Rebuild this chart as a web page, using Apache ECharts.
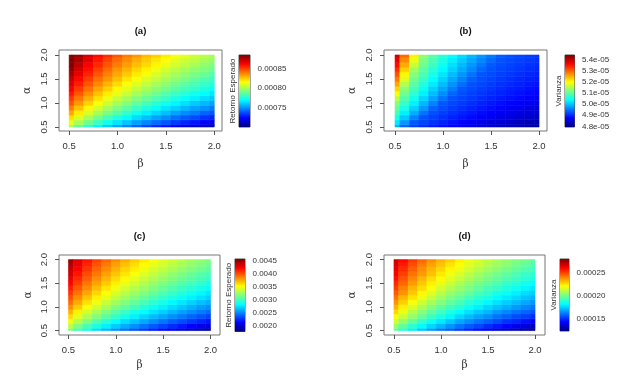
<!DOCTYPE html>
<html>
<head>
<meta charset="utf-8">
<title>Retorno esperado y varianza</title>
<script src="https://cdn.jsdelivr.net/npm/echarts@6/dist/echarts.min.js"></script>
<style>
    html, body { margin: 0; padding: 0; background: #fff; }
    #main { width: 624px; height: 386px; }
</style>
</head>
<body>
<div id="main"></div>
<script>
    var myChart = echarts.init(document.getElementById('main'));

    // malla: beta en el eje x, alfa en el eje y
    var betas  = [0.5, 0.6, 0.7, 0.8, 0.9, 1.0, 1.1, 1.2, 1.3, 1.4, 1.5, 1.6, 1.7, 1.8, 1.9, 2.0];
    var alphas = [0.5, 0.6, 0.7, 0.8, 0.9, 1.0, 1.1, 1.2, 1.3, 1.4, 1.5, 1.6, 1.7, 1.8, 1.9, 2.0];
    var axisTicks = [0.5, 1.0, 1.5, 2.0];

    // filas: alfa 0.5 -> 2.0 ; columnas: beta 0.5 -> 2.0
    // (a) Retorno Esperado, en 1e-5
    var retornoA = [
        [80.0,78.8,77.8,76.9,76.1,75.4,74.8,74.2,73.7,73.2,72.8,72.3,71.9,71.6,71.2,70.9],
        [81.2,80.0,79.0,78.1,77.3,76.6,76.0,75.4,74.9,74.4,74.0,73.5,73.1,72.8,72.4,72.1],
        [82.2,81.0,80.0,79.1,78.3,77.6,77.0,76.4,75.9,75.4,75.0,74.5,74.1,73.8,73.4,73.1],
        [83.1,81.9,80.9,80.0,79.2,78.5,77.9,77.3,76.8,76.3,75.9,75.4,75.0,74.7,74.3,74.0],
        [83.9,82.7,81.7,80.8,80.0,79.3,78.7,78.1,77.6,77.1,76.6,76.2,75.8,75.4,75.1,74.7],
        [84.6,83.4,82.4,81.5,80.7,80.0,79.4,78.8,78.3,77.8,77.3,76.9,76.5,76.1,75.8,75.4],
        [85.2,84.0,83.0,82.1,81.3,80.6,80.0,79.4,78.9,78.4,78.0,77.5,77.1,76.8,76.4,76.1],
        [85.8,84.6,83.6,82.7,81.9,81.2,80.6,80.0,79.5,79.0,78.5,78.1,77.7,77.3,77.0,76.6],
        [86.3,85.1,84.1,83.2,82.4,81.7,81.1,80.5,80.0,79.5,79.1,78.6,78.2,77.9,77.5,77.2],
        [86.8,85.6,84.6,83.7,82.9,82.2,81.6,81.0,80.5,80.0,79.6,79.1,78.7,78.3,78.0,77.7],
        [87.2,86.0,85.0,84.1,83.4,82.7,82.0,81.5,80.9,80.5,80.0,79.6,79.2,78.8,78.4,78.1],
        [87.7,86.5,85.5,84.6,83.8,83.1,82.5,81.9,81.4,80.9,80.4,80.0,79.6,79.2,78.9,78.5],
        [88.1,86.9,85.9,85.0,84.2,83.5,82.9,82.3,81.8,81.3,80.8,80.4,80.0,79.6,79.3,78.9],
        [88.4,87.3,86.2,85.4,84.6,83.9,83.3,82.7,82.2,81.7,81.2,80.8,80.4,80.0,79.6,79.3],
        [88.4,87.6,86.6,85.7,84.9,84.2,83.6,83.0,82.5,82.0,81.6,81.1,80.7,80.4,80.0,79.7],
        [88.4,87.9,86.9,86.0,85.3,84.6,83.9,83.4,82.8,82.4,81.9,81.5,81.1,80.7,80.3,80.0]
    ];

    // (b) Varianza, en 1e-5
    var varianzaB = [
        [4.989,4.938,4.918,4.905,4.893,4.882,4.873,4.864,4.856,4.849,4.842,4.835,4.829,4.824,4.818,4.813],
        [5.025,4.974,4.931,4.918,4.906,4.895,4.886,4.877,4.869,4.862,4.855,4.848,4.842,4.836,4.831,4.826],
        [5.055,5.004,4.961,4.928,4.917,4.906,4.896,4.888,4.880,4.872,4.865,4.859,4.853,4.847,4.842,4.837],
        [5.081,5.030,4.987,4.950,4.926,4.915,4.906,4.897,4.889,4.882,4.875,4.868,4.862,4.857,4.851,4.846],
        [5.104,5.053,5.010,4.973,4.940,4.924,4.914,4.905,4.897,4.890,4.883,4.877,4.871,4.865,4.859,4.854],
        [5.124,5.074,5.031,4.993,4.960,4.931,4.921,4.913,4.905,4.897,4.890,4.884,4.878,4.872,4.867,4.862],
        [5.160,5.092,5.049,5.012,4.979,4.950,4.928,4.919,4.911,4.904,4.897,4.891,4.885,4.879,4.873,4.868],
        [5.195,5.109,5.066,5.029,4.996,4.966,4.940,4.926,4.917,4.910,4.903,4.897,4.891,4.885,4.879,4.874],
        [5.227,5.125,5.082,5.044,5.011,4.982,4.956,4.931,4.923,4.916,4.909,4.902,4.896,4.890,4.885,4.880],
        [5.257,5.153,5.096,5.059,5.026,4.997,4.970,4.946,4.928,4.921,4.914,4.907,4.901,4.896,4.890,4.885],
        [5.284,5.180,5.110,5.072,5.039,5.010,4.983,4.959,4.937,4.926,4.919,4.912,4.906,4.900,4.895,4.890],
        [5.310,5.206,5.122,5.085,5.052,5.023,4.996,4.972,4.950,4.930,4.923,4.917,4.911,4.905,4.900,4.895],
        [5.335,5.231,5.143,5.097,5.064,5.035,5.008,4.984,4.961,4.941,4.928,4.921,4.915,4.909,4.904,4.899],
        [5.358,5.254,5.166,5.108,5.075,5.046,5.019,4.995,4.973,4.952,4.933,4.925,4.919,4.913,4.908,4.903],
        [5.379,5.275,5.187,5.118,5.085,5.056,5.030,5.005,4.983,4.963,4.943,4.929,4.923,4.917,4.912,4.907],
        [5.400,5.296,5.208,5.131,5.095,5.066,5.040,5.015,4.993,4.973,4.953,4.935,4.926,4.921,4.915,4.910]
    ];

    // (c) Retorno Esperado, en 1e-4
    var retornoC = [
        [31.7,30.0,28.5,27.3,26.2,25.2,24.3,23.5,22.7,22.0,21.4,20.7,20.2,19.6,19.1,18.7],
        [33.4,31.7,30.2,29.0,27.9,26.9,26.0,25.2,24.4,23.7,23.1,22.5,21.9,21.3,20.8,20.4],
        [34.8,33.1,31.7,30.4,29.3,28.3,27.4,26.6,25.9,25.2,24.5,23.9,23.3,22.8,22.3,21.8],
        [36.1,34.4,32.9,31.7,30.6,29.6,28.7,27.9,27.1,26.4,25.8,25.2,24.6,24.0,23.5,23.1],
        [37.2,35.5,34.0,32.8,31.7,30.7,29.8,29.0,28.2,27.5,26.9,26.3,25.7,25.2,24.7,24.2],
        [38.2,36.5,35.0,33.8,32.7,31.7,30.8,30.0,29.2,28.5,27.9,27.3,26.7,26.1,25.6,25.2],
        [39.1,37.4,35.9,34.7,33.6,32.6,31.7,30.9,30.1,29.4,28.8,28.1,27.6,27.0,26.5,26.1],
        [39.9,38.2,36.7,35.5,34.4,33.4,32.5,31.7,30.9,30.2,29.6,29.0,28.4,27.9,27.4,26.9],
        [40.6,38.9,37.5,36.2,35.1,34.1,33.2,32.4,31.7,31.0,30.3,29.7,29.1,28.6,28.1,27.6],
        [41.3,39.6,38.2,36.9,35.8,34.8,33.9,33.1,32.4,31.7,31.0,30.4,29.8,29.3,28.8,28.3],
        [42.0,40.3,38.8,37.6,36.5,35.5,34.6,33.8,33.0,32.3,31.7,31.1,30.5,30.0,29.5,29.0],
        [42.6,40.9,39.5,38.2,37.1,36.1,35.2,34.4,33.6,32.9,32.3,31.7,31.1,30.6,30.1,29.6],
        [43.2,41.5,40.0,38.8,37.7,36.7,35.8,35.0,34.2,33.5,32.9,32.2,31.7,31.1,30.6,30.2],
        [43.7,42.0,40.6,39.3,38.2,37.2,36.3,35.5,34.7,34.0,33.4,32.8,32.2,31.7,31.2,30.7],
        [44.2,42.5,41.1,39.8,38.7,37.7,36.8,36.0,35.2,34.5,33.9,33.3,32.7,32.2,31.7,31.2],
        [44.7,43.0,41.5,40.3,39.2,38.2,37.3,36.5,35.7,35.0,34.4,33.8,33.2,32.7,32.2,31.7]
    ];

    // (d) Varianza, en 1e-5
    var varianzaD = [
        [19.7,18.8,18.0,17.3,16.7,16.1,15.7,15.2,14.8,14.4,14.1,13.7,13.4,13.1,12.9,12.6],
        [20.6,19.7,18.9,18.2,17.6,17.1,16.6,16.1,15.7,15.4,15.0,14.7,14.4,14.1,13.8,13.5],
        [21.4,20.5,19.7,19.0,18.4,17.9,17.4,16.9,16.5,16.1,15.8,15.5,15.1,14.9,14.6,14.3],
        [22.1,21.2,20.4,19.7,19.1,18.6,18.1,17.6,17.2,16.8,16.5,16.1,15.8,15.5,15.3,15.0],
        [22.7,21.8,21.0,20.3,19.7,19.2,18.7,18.2,17.8,17.4,17.1,16.7,16.4,16.1,15.9,15.6],
        [23.2,22.3,21.5,20.8,20.2,19.7,19.2,18.8,18.4,18.0,17.6,17.3,17.0,16.7,16.4,16.1],
        [23.7,22.8,22.0,21.3,20.7,20.2,19.7,19.3,18.8,18.5,18.1,17.8,17.5,17.2,16.9,16.6],
        [24.2,23.2,22.5,21.8,21.2,20.6,20.1,19.7,19.3,18.9,18.6,18.2,17.9,17.6,17.3,17.1],
        [24.6,23.7,22.9,22.2,21.6,21.0,20.5,20.1,19.7,19.3,19.0,18.6,18.3,18.0,17.7,17.5],
        [25.0,24.0,23.2,22.6,22.0,21.4,20.9,20.5,20.1,19.7,19.3,19.0,18.7,18.4,18.1,17.9],
        [25.3,24.4,23.6,22.9,22.3,21.8,21.3,20.8,20.4,20.0,19.7,19.4,19.0,18.8,18.5,18.2],
        [25.7,24.7,23.9,23.2,22.6,22.1,21.6,21.2,20.8,20.4,20.0,19.7,19.4,19.1,18.8,18.6],
        [26.0,25.0,24.2,23.6,23.0,22.4,21.9,21.5,21.1,20.7,20.3,20.0,19.7,19.4,19.1,18.9],
        [26.3,25.3,24.5,23.8,23.2,22.7,22.2,21.8,21.4,21.0,20.6,20.3,20.0,19.7,19.4,19.2],
        [26.5,25.6,24.8,24.1,23.5,23.0,22.5,22.1,21.6,21.3,20.9,20.6,20.3,20.0,19.7,19.4],
        [26.8,25.9,25.1,24.4,23.8,23.2,22.8,22.3,21.9,21.5,21.2,20.8,20.5,20.2,20.0,19.7]
    ];

    var matrices = [retornoA, varianzaB, retornoC, varianzaD];
    var units = [1e-5, 1e-5, 1e-4, 1e-5];

    // escala de color (extremos de cada barra)
    var rangeA = [0.000702, 0.000884];
    var rangeB = [4.794e-5, 5.445e-5];
    var rangeC = [0.001784, 0.00455];
    var rangeD = [0.000124, 0.000279];
    var ranges = [rangeA, rangeB, rangeC, rangeD];

    var ticksA = [0.00075, 0.00080, 0.00085];
    var ticksB = [4.8e-5, 4.9e-5, 5.0e-5, 5.1e-5, 5.2e-5, 5.3e-5, 5.4e-5];
    var ticksC = [0.0020, 0.0025, 0.0030, 0.0035, 0.0040, 0.0045];
    var ticksD = [0.00015, 0.00020, 0.00025];
    var barTicks = [ticksA, ticksB, ticksC, ticksD];

    var titles = ['(a)', '(b)', '(c)', '(d)'];
    var barNames = ['Retorno Esperado', 'Varianza', 'Retorno Esperado', 'Varianza'];

    var fmts = [
        function (v) { return v.toFixed(5); },
        function (v) { return v.toExponential(1).replace(/e([+-])(\d)$/, 'e$10$2'); },
        function (v) { return v.toFixed(4); },
        function (v) { return v.toFixed(5); }
    ];

    // posiciones (px) de cada panel
    var layout = [
        { grid: {left: 59, top: 50, width: 163, height: 81}, x: [0.395, 2.08], y: [0.417, 2.104],
          bar: {left: 239, top: 55, width: 11, height: 72}, titleTop: 26.5, xGap: 28, yGap: 26 },
        { grid: {left: 384, top: 50, width: 163, height: 81}, x: [0.385, 2.083], y: [0.417, 2.104],
          bar: {left: 565, top: 55, width: 9.5, height: 72}, titleTop: 26.5, xGap: 28, yGap: 26.5 },
        { grid: {left: 59, top: 255, width: 161, height: 80}, x: [0.40, 2.10], y: [0.407, 2.097],
          bar: {left: 235, top: 259, width: 10, height: 72.5}, titleTop: 231, xGap: 24.5, yGap: 25.5 },
        { grid: {left: 384, top: 255, width: 161, height: 80}, x: [0.394, 2.106], y: [0.407, 2.097],
          bar: {left: 560, top: 259, width: 9, height: 72}, titleTop: 231, xGap: 24.5, yGap: 26.5 }
    ];

    var jet = ['#00007F', '#0000FF', '#007FFF', '#00FFFF', '#7FFF7F', '#FFFF00', '#FF7F00', '#FF0000', '#7F0000'];
    var barStops = jet.slice().reverse().map(function (c, i) {
        return {offset: i / (jet.length - 1), color: c};
    });

    var half = (betas[1] - betas[0]) / 2;
    var bMin = betas[0], bMax = betas[betas.length - 1];
    var aMin = alphas[0], aMax = alphas[alphas.length - 1];

    var cells = function (mat, unit) {
        var res = [];
        for (var i = 0; i < alphas.length; i++) {
            for (var j = 0; j < betas.length; j++) {
                res.push([betas[j], alphas[i], mat[i][j] * unit]);
            }
        }
        return res;
    };

    var renderCell = function (params, api) {
        var b = api.value(0), a = api.value(1);
        var p0 = api.coord([Math.max(b - half, bMin), Math.min(a + half, aMax)]);
        var p1 = api.coord([Math.min(b + half, bMax), Math.max(a - half, aMin)]);
        var color = api.visual('color');
        return {
            type: 'rect',
            shape: {x: p0[0], y: p0[1], width: p1[0] - p0[0], height: p1[1] - p0[1]},
            style: {fill: color, stroke: color, lineWidth: 0.6}
        };
    };

    var renderBar = function (params, api) {
        var p0 = api.coord([api.value(0), api.value(3)]);
        var p1 = api.coord([api.value(2), api.value(1)]);
        return {
            type: 'rect',
            shape: {x: p0[0], y: p0[1], width: p1[0] - p0[0], height: p1[1] - p0[1]},
            style: {fill: new echarts.graphic.LinearGradient(0, 0, 0, 1, barStops)}
        };
    };

    var option = {
        backgroundColor: '#fff',
        animation: false,
        textStyle: {fontFamily: 'Liberation Sans, Arial, sans-serif'},
        title: [], grid: [], xAxis: [], yAxis: [], visualMap: [], series: []
    };

    // paneles principales
    for (var k = 0; k < 4; k++) {
        var L = layout[k];
        var g = L.grid;
        option.grid.push({
            left: g.left, top: g.top, width: g.width, height: g.height,
            show: true, borderColor: '#777', borderWidth: 1, outerBoundsMode: 'none'
        });
        option.title.push({
            text: titles[k], left: g.left + g.width / 2, top: L.titleTop, textAlign: 'center', padding: 0,
            textStyle: {fontSize: 9.5, fontWeight: 'bold', color: '#111'}
        });
        option.xAxis.push({
            gridIndex: k, type: 'value', min: L.x[0], max: L.x[1],
            axisLine: {show: false}, splitLine: {show: false},
            axisTick: {show: true, customValues: axisTicks, length: 4, lineStyle: {color: '#555'}},
            axisLabel: {customValues: axisTicks, fontSize: 9.5, color: '#333', margin: 10,
                formatter: function (v) { return v.toFixed(1); }},
            name: 'β', nameLocation: 'middle', nameGap: L.xGap,
            nameTextStyle: {fontFamily: 'DejaVu Serif', fontSize: 10.5, color: '#333'}
        });
        option.yAxis.push({
            gridIndex: k, type: 'value', min: L.y[0], max: L.y[1],
            axisLine: {show: false}, splitLine: {show: false},
            axisTick: {show: true, customValues: axisTicks, length: 4, lineStyle: {color: '#555'}},
            axisLabel: {customValues: axisTicks, fontSize: 9.5, color: '#333', margin: 10, rotate: 90,
                formatter: function (v) { return v.toFixed(1); }},
            name: 'α', nameLocation: 'middle', nameGap: L.yGap, nameRotate: 90,
            nameTextStyle: {fontFamily: 'DejaVu Serif', fontSize: 10.5, color: '#333'}
        });
        option.visualMap.push({
            type: 'continuous', show: false, seriesIndex: k, dimension: 2,
            min: ranges[k][0], max: ranges[k][1], inRange: {color: jet}
        });
        option.series.push({
            type: 'custom', xAxisIndex: k, yAxisIndex: k, silent: true,
            encode: {x: 0, y: 1},
            data: cells(matrices[k], units[k]),
            renderItem: renderCell
        });
    }

    // barras de color
    for (var k = 0; k < 4; k++) {
        var b = layout[k].bar;
        option.grid.push({
            left: b.left, top: b.top, width: b.width, height: b.height,
            show: true, borderColor: '#222', borderWidth: 0.8, outerBoundsMode: 'none'
        });
        option.xAxis.push({gridIndex: 4 + k, type: 'value', min: 0, max: 1, show: false});
        option.yAxis.push({
            gridIndex: 4 + k, type: 'value', position: 'right', min: ranges[k][0], max: ranges[k][1],
            axisLine: {show: false}, splitLine: {show: false},
            axisTick: {show: true, customValues: barTicks[k], length: 3, lineStyle: {color: '#333'}},
            axisLabel: {customValues: barTicks[k], fontSize: 8, color: '#333', margin: 7.5, formatter: fmts[k]}
        });
    }
    for (var k = 0; k < 4; k++) {
        option.yAxis.push({
            gridIndex: 4 + k, type: 'value', position: 'left', min: ranges[k][0], max: ranges[k][1],
            axisLine: {show: false}, axisTick: {show: false}, axisLabel: {show: false}, splitLine: {show: false},
            name: barNames[k], nameLocation: 'middle', nameGap: 2, nameRotate: 90,
            nameTextStyle: {fontSize: 8, color: '#333'}
        });
        option.series.push({
            type: 'custom', xAxisIndex: 4 + k, yAxisIndex: 4 + k, silent: true,
            encode: {x: [0, 2], y: [1, 3]},
            data: [[0, ranges[k][0], 1, ranges[k][1]]],
            renderItem: renderBar
        });
    }

    myChart.setOption(option);
</script>
</body>
</html>
